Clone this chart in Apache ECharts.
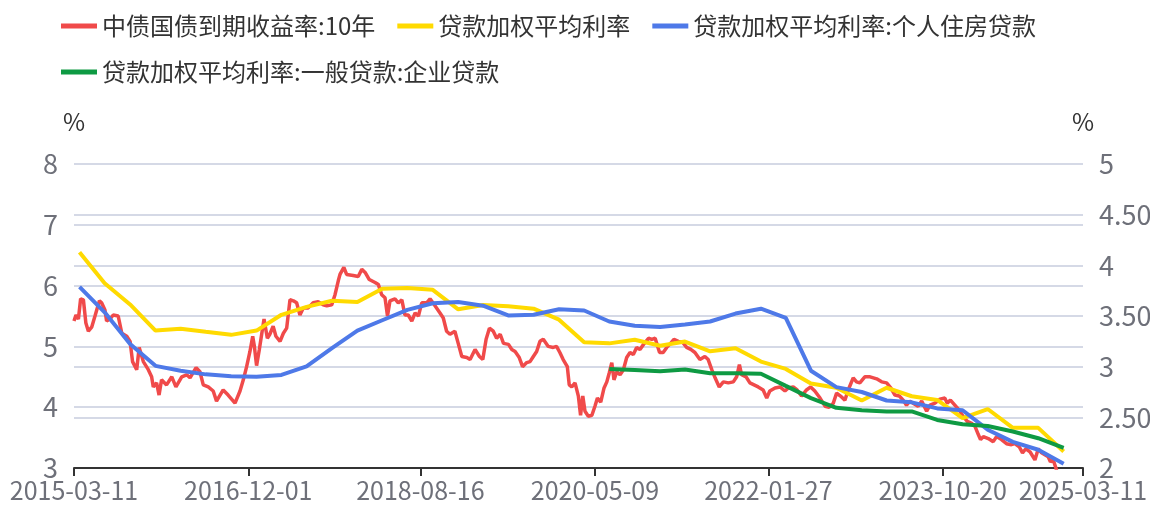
<!DOCTYPE html>
<html lang="zh">
<head>
<meta charset="UTF-8">
<title>贷款加权平均利率与10年国债收益率</title>
<script src="https://cdn.jsdelivr.net/npm/echarts@6/dist/echarts.min.js"></script>
<style>
  html, body { margin: 0; padding: 0; background: #fff; }
  #main { width: 1150px; height: 508px; }
</style>
</head>
<body>
<div id="main"></div>
<script>
// 图例名称
var seriesNames = ['中债国债到期收益率:10年', '贷款加权平均利率', '贷款加权平均利率:个人住房贷款', '贷款加权平均利率:一般贷款:企业贷款'];
var colors = ['#F04A4A', '#FFDA00', '#4E79E8', '#0E9A43'];

// x轴刻度
var xTicks = ['2015-03-11', '2016-12-01', '2018-08-16', '2020-05-09', '2022-01-27', '2023-10-20', '2025-03-11'];

// 季度末日期 2015Q1 - 2024Q4
var quarterDates = [
  '2015-03-31', '2015-06-30', '2015-09-30', '2015-12-31',
  '2016-03-31', '2016-06-30', '2016-09-30', '2016-12-31',
  '2017-03-31', '2017-06-30', '2017-09-30', '2017-12-31',
  '2018-03-31', '2018-06-30', '2018-09-30', '2018-12-31',
  '2019-03-31', '2019-06-30', '2019-09-30', '2019-12-31',
  '2020-03-31', '2020-06-30', '2020-09-30', '2020-12-31',
  '2021-03-31', '2021-06-30', '2021-09-30', '2021-12-31',
  '2022-03-31', '2022-06-30', '2022-09-30', '2022-12-31',
  '2023-03-31', '2023-06-30', '2023-09-30', '2023-12-31',
  '2024-03-31', '2024-06-30', '2024-09-30', '2024-12-31'
];

// 贷款加权平均利率 (左轴)
var loanRate = [
  6.55, 6.04, 5.69, 5.26,
  5.29, 5.24, 5.19, 5.26,
  5.52, 5.65, 5.75, 5.73,
  5.95, 5.96, 5.93, 5.61,
  5.68, 5.66, 5.62, 5.44,
  5.07, 5.05, 5.11, 5.01,
  5.08, 4.92, 4.97, 4.75,
  4.63, 4.39, 4.32, 4.11,
  4.32, 4.18, 4.12, 3.82,
  3.97, 3.66, 3.66, 3.27
];

// 个人住房贷款 (左轴)
var houseRate = [
  5.98, 5.56, 5.04, 4.68,
  4.60, 4.54, 4.51, 4.50,
  4.53, 4.67, 4.97, 5.26,
  5.43, 5.60, 5.71, 5.73,
  5.67, 5.51, 5.52, 5.61,
  5.59, 5.41, 5.34, 5.32,
  5.36, 5.41, 5.54, 5.62,
  5.47, 4.60, 4.33, 4.25,
  4.11, 4.08, 3.98, 3.95,
  3.63, 3.43, 3.30, 3.07
];

// 一般贷款:企业贷款 (左轴, 2020Q2起)
var corpDates = quarterDates.slice(21);
var corpRate = [
  4.63, 4.61, 4.59,
  4.62, 4.56, 4.56, 4.55,
  4.35, 4.15, 3.99, 3.95,
  3.93, 3.93, 3.79, 3.72,
  3.69, 3.60, 3.49, 3.33
];

// 10年国债收益率 (右轴)
var bondDates = [
  '2015-03-11', '2015-03-18', '2015-03-27', '2015-04-04', '2015-04-14', '2015-04-23', '2015-05-02', '2015-05-14', '2015-05-26', '2015-06-11',
  '2015-06-19', '2015-07-01', '2015-07-07', '2015-07-19', '2015-07-31', '2015-08-18', '2015-08-31', '2015-09-18', '2015-09-30', '2015-10-09',
  '2015-10-24', '2015-11-02', '2015-11-17', '2015-12-05', '2015-12-17', '2015-12-23', '2016-01-04', '2016-01-13', '2016-01-22', '2016-02-09',
  '2016-02-28', '2016-03-14', '2016-04-04', '2016-04-22', '2016-05-04', '2016-05-26', '2016-06-09', '2016-06-21', '2016-07-09', '2016-07-27',
  '2016-08-08', '2016-09-01', '2016-09-19', '2016-10-14', '2016-11-01', '2016-11-13', '2016-11-25', '2016-12-07', '2016-12-17', '2016-12-23',
  '2016-12-31', '2017-01-10', '2017-01-27', '2017-02-08', '2017-02-17', '2017-03-01', '2017-03-11', '2017-03-26', '2017-04-07', '2017-04-19',
  '2017-05-01', '2017-05-13', '2017-05-25', '2017-06-06', '2017-06-18', '2017-07-06', '2017-07-24', '2017-08-11', '2017-08-29', '2017-09-11',
  '2017-09-29', '2017-10-11', '2017-10-23', '2017-10-29', '2017-11-12', '2017-11-22', '2017-12-16', '2018-01-03', '2018-01-16', '2018-01-28',
  '2018-02-12', '2018-03-05', '2018-03-17', '2018-03-29', '2018-04-10', '2018-04-19', '2018-04-28', '2018-05-16', '2018-05-28', '2018-06-10',
  '2018-06-21', '2018-07-03', '2018-07-16', '2018-07-28', '2018-08-09', '2018-08-21', '2018-09-08', '2018-09-20', '2018-10-08', '2018-10-26',
  '2018-11-07', '2018-11-19', '2018-12-01', '2018-12-19', '2018-12-31', '2019-01-13', '2019-01-31', '2019-02-12', '2019-03-02', '2019-03-18',
  '2019-03-30', '2019-04-11', '2019-04-23', '2019-05-07', '2019-05-19', '2019-06-01', '2019-06-13', '2019-07-01', '2019-07-13', '2019-07-25',
  '2019-08-09', '2019-08-21', '2019-09-05', '2019-09-17', '2019-09-29', '2019-10-11', '2019-10-23', '2019-11-04', '2019-11-22', '2019-12-10',
  '2019-12-22', '2020-01-03', '2020-01-15', '2020-01-30', '2020-02-06', '2020-02-15', '2020-02-27', '2020-03-10', '2020-03-18', '2020-03-26',
  '2020-04-03', '2020-04-15', '2020-04-28', '2020-05-09', '2020-05-18', '2020-05-30', '2020-06-11', '2020-06-21', '2020-06-30', '2020-07-09',
  '2020-07-17', '2020-07-27', '2020-08-08', '2020-08-20', '2020-09-01', '2020-09-13', '2020-09-25', '2020-10-07', '2020-10-19', '2020-11-01',
  '2020-11-19', '2020-12-01', '2020-12-13', '2020-12-29', '2021-01-11', '2021-01-24', '2021-02-07', '2021-02-19', '2021-03-07', '2021-03-23',
  '2021-04-06', '2021-04-21', '2021-05-06', '2021-05-24', '2021-06-11', '2021-06-23', '2021-07-06', '2021-07-18', '2021-08-02', '2021-08-17',
  '2021-09-04', '2021-09-22', '2021-10-04', '2021-10-14', '2021-10-22', '2021-11-07', '2021-11-21', '2021-12-06', '2021-12-21', '2022-01-08',
  '2022-01-21', '2022-02-01', '2022-02-20', '2022-03-10', '2022-03-28', '2022-04-09', '2022-04-27', '2022-05-11', '2022-05-27', '2022-06-14',
  '2022-06-29', '2022-07-14', '2022-08-02', '2022-08-20', '2022-09-04', '2022-09-19', '2022-10-01', '2022-10-15', '2022-10-31', '2022-11-12',
  '2022-11-30', '2022-12-12', '2022-12-24', '2023-01-11', '2023-01-30', '2023-02-23', '2023-03-13', '2023-03-31', '2023-04-15', '2023-04-30',
  '2023-05-16', '2023-05-30', '2023-06-11', '2023-06-23', '2023-07-05', '2023-07-23', '2023-08-05', '2023-08-23', '2023-09-04', '2023-09-22',
  '2023-10-10', '2023-10-28', '2023-11-05', '2023-11-17', '2023-12-03', '2023-12-19', '2024-01-02', '2024-01-17', '2024-02-02', '2024-02-14',
  '2024-02-26', '2024-03-05', '2024-03-15', '2024-04-02', '2024-04-20', '2024-05-02', '2024-05-20', '2024-06-07', '2024-06-25', '2024-07-07',
  '2024-07-23', '2024-08-04', '2024-08-16', '2024-08-31', '2024-09-18', '2024-09-30', '2024-10-12', '2024-10-24', '2024-11-05', '2024-11-13',
  '2024-11-23', '2024-12-03', '2024-12-07', '2024-12-16', '2025-01-06', '2025-02-05', '2025-03-11'
];
var bondYield = [
  3.45, 3.51, 3.47, 3.67, 3.66, 3.43, 3.35, 3.39, 3.50, 3.65,
  3.63, 3.56, 3.45, 3.47, 3.51, 3.50, 3.33, 3.30, 3.25, 3.05,
  2.97, 3.19, 3.05, 2.97, 2.90, 2.80, 2.84, 2.72, 2.87, 2.82,
  2.90, 2.80, 2.90, 2.92, 2.89, 2.99, 2.95, 2.82, 2.80, 2.76,
  2.66, 2.77, 2.72, 2.64, 2.76, 2.87, 3.00, 3.15, 3.30, 3.20,
  3.01, 3.17, 3.47, 3.28, 3.32, 3.40, 3.30, 3.25, 3.33, 3.38,
  3.66, 3.65, 3.63, 3.51, 3.58, 3.58, 3.63, 3.64, 3.61, 3.60,
  3.61, 3.71, 3.85, 3.91, 3.98, 3.91, 3.90, 3.89, 3.96, 3.93,
  3.86, 3.83, 3.81, 3.71, 3.68, 3.50, 3.65, 3.67, 3.63, 3.66,
  3.51, 3.51, 3.45, 3.53, 3.50, 3.63, 3.63, 3.67, 3.60, 3.53,
  3.48, 3.35, 3.32, 3.35, 3.23, 3.10, 3.09, 3.07, 3.17, 3.10,
  3.07, 3.27, 3.38, 3.35, 3.28, 3.32, 3.23, 3.22, 3.17, 3.15,
  3.09, 3.00, 3.04, 3.05, 3.10, 3.15, 3.25, 3.27, 3.20, 3.19,
  3.20, 3.14, 3.07, 3.00, 2.82, 2.80, 2.84, 2.71, 2.52, 2.71,
  2.56, 2.51, 2.52, 2.61, 2.69, 2.65, 2.79, 2.85, 2.94, 3.04,
  2.87, 2.95, 2.92, 2.97, 3.09, 3.14, 3.12, 3.19, 3.17, 3.22,
  3.28, 3.27, 3.28, 3.14, 3.14, 3.19, 3.23, 3.27, 3.25, 3.24,
  3.19, 3.17, 3.14, 3.07, 3.10, 3.07, 2.97, 2.89, 2.80, 2.85,
  2.84, 2.85, 2.90, 3.02, 2.92, 2.90, 2.84, 2.82, 2.80, 2.77,
  2.69, 2.76, 2.79, 2.80, 2.76, 2.79, 2.80, 2.77, 2.71, 2.77,
  2.80, 2.76, 2.69, 2.61, 2.60, 2.64, 2.74, 2.71, 2.67, 2.77,
  2.89, 2.85, 2.84, 2.90, 2.90, 2.88, 2.85, 2.84, 2.79, 2.72,
  2.71, 2.67, 2.62, 2.66, 2.64, 2.61, 2.66, 2.56, 2.62, 2.64,
  2.68, 2.69, 2.64, 2.67, 2.62, 2.57, 2.51, 2.46, 2.44, 2.41,
  2.33, 2.28, 2.31, 2.29, 2.26, 2.31, 2.28, 2.24, 2.23, 2.24,
  2.21, 2.15, 2.19, 2.16, 2.08, 2.19, 2.15, 2.13, 2.11, 2.06,
  2.08, 2.00, 1.96, 1.75, 1.62, 1.63, 1.82
];

function toTime(d) {
  return echarts.number.parseDate(d).getTime();
}
function zip(dates, vals) {
  return dates.map(function (d, i) { return [toTime(d), vals[i]]; });
}
function pad(n) {
  return n < 10 ? '0' + n : String(n);
}

var labelFont = 'Noto Sans CJK SC';
var tickTimes = xTicks.map(toTime);
var chart = echarts.init(document.getElementById('main'), null, { renderer: 'canvas' });

var option = {
  animation: false,
  color: colors,
  textStyle: { fontFamily: labelFont },
  legend: {
    left: 56,
    top: 9,
    width: 1050,
    icon: 'rect',
    itemWidth: 36,
    itemHeight: 5,
    itemGap: 22,
    textStyle: { fontSize: 24, lineHeight: 24, color: '#333', fontFamily: labelFont },
    data: seriesNames
  },
  grid: {
    left: 74,
    right: 67,
    top: 164,
    bottom: 40,
    containLabel: false,
    outerBoundsMode: 'none'
  },
  xAxis: {
    type: 'value',
    min: tickTimes[0],
    max: tickTimes[tickTimes.length - 1],
    axisLine: { show: true, lineStyle: { color: '#333', width: 2 } },
    axisTick: {
      show: true,
      length: 8,
      lineStyle: { color: '#333', width: 2 },
      customValues: tickTimes
    },
    axisLabel: {
      fontSize: 25,
      color: '#6E7079',
      margin: 10,
      hideOverlap: false,
      customValues: tickTimes,
      formatter: function (v) {
        var d = new Date(v);
        return d.getFullYear() + '-' + pad(d.getMonth() + 1) + '-' + pad(d.getDate());
      }
    },
    splitLine: { show: false }
  },
  yAxis: [
    {
      type: 'value',
      name: '%',
      nameLocation: 'end',
      nameGap: 30,
      nameTextStyle: { fontSize: 24, color: '#333', align: 'center' },
      min: 3,
      max: 8,
      interval: 1,
      axisLine: { show: false },
      axisTick: { show: false },
      axisLabel: { fontSize: 27, color: '#6E7079', margin: 16 },
      splitLine: { lineStyle: { color: '#D5D9E6', width: 2 } }
    },
    {
      type: 'value',
      name: '%',
      nameLocation: 'end',
      nameGap: 30,
      nameTextStyle: { fontSize: 24, color: '#333', align: 'center' },
      min: 2,
      max: 5,
      interval: 0.5,
      axisLine: { show: false },
      axisTick: { show: false },
      axisLabel: {
        fontSize: 27,
        color: '#6E7079',
        margin: 16,
        formatter: function (v) { return v % 1 === 0 ? String(v) : v.toFixed(2); }
      },
      splitLine: { lineStyle: { color: '#D5D9E6', width: 2 } }
    }
  ],
  series: [
    {
      name: seriesNames[0],
      type: 'line',
      yAxisIndex: 1,
      showSymbol: false,
      clip: true,
      lineStyle: { width: 3.5 },
      data: zip(bondDates, bondYield)
    },
    {
      name: seriesNames[1],
      type: 'line',
      yAxisIndex: 0,
      showSymbol: false,
      lineStyle: { width: 4 },
      data: zip(quarterDates, loanRate)
    },
    {
      name: seriesNames[2],
      type: 'line',
      yAxisIndex: 0,
      showSymbol: false,
      lineStyle: { width: 4 },
      data: zip(quarterDates, houseRate)
    },
    {
      name: seriesNames[3],
      type: 'line',
      yAxisIndex: 0,
      showSymbol: false,
      lineStyle: { width: 4 },
      data: zip(corpDates, corpRate)
    }
  ]
};

chart.setOption(option);
</script>
</body>
</html>
